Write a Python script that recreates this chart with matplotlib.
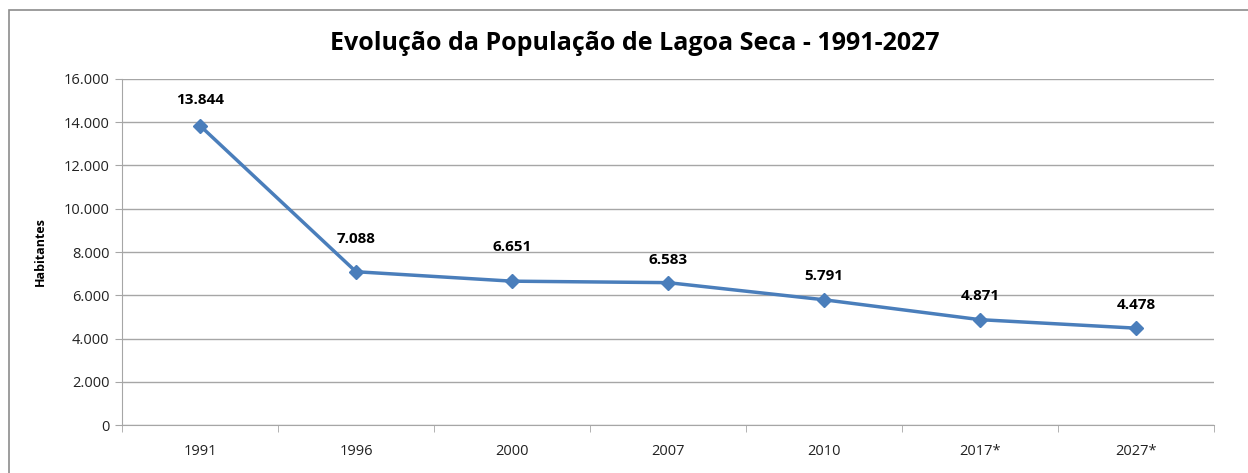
import matplotlib.pyplot as plt
from matplotlib.patches import Rectangle
from matplotlib.ticker import FuncFormatter

anos = ['1991', '1996', '2000', '2007', '2010', '2017*', '2027*']
habitantes = [13844, 7088, 6651, 6583, 5791, 4871, 4478]

# label offsets above the marker, in pixels (as in the original chart)
label_dy = [26, 33, 34, 23, 24, 24, 23]

plt.rcParams['font.family'] = ['Open Sans', 'DejaVu Sans']

fig = plt.figure(figsize=(12.48, 4.73), dpi=100)
ax = fig.add_axes([122 / 1248, 1 - 425 / 473, 1092 / 1248, 346 / 473])

# outer chart border
fig.patches.append(Rectangle((9 / 1248, -0.05), 1.2, 1 - 10 / 473 + 0.05,
                             transform=fig.transFigure, fill=False,
                             edgecolor='#8c8c8c', linewidth=1.2))

x = list(range(len(anos)))
ax.plot(x, habitantes, color='#4a7ebb', linewidth=2.5, marker='D',
        markersize=7, zorder=3)

for i, v in enumerate(habitantes):
    ax.annotate(f'{v:,}'.replace(',', '.'), (i, v), xytext=(0, label_dy[i] * 0.72),
                textcoords='offset points', ha='center', va='center',
                fontsize=11, fontweight='bold', color='black')

ax.set_xlim(-0.5, len(anos) - 0.5)
ax.set_ylim(0, 16000)
ax.set_yticks(range(0, 16001, 2000))
ax.yaxis.set_major_formatter(FuncFormatter(lambda v, p: f'{int(v):,}'.replace(',', '.')))
ax.grid(axis='y', color='#a6a6a6', linewidth=1)
ax.set_axisbelow(True)

ax.set_xticks(x)
ax.set_xticklabels(anos)
ax.set_xticks([i - 0.5 for i in range(len(anos) + 1)], minor=True)
ax.tick_params(axis='x', which='major', length=0, pad=14, labelsize=10.5, labelcolor='#222222')
ax.tick_params(axis='x', which='minor', length=5, color='#a6a6a6')
ax.tick_params(axis='y', length=5, color='#a6a6a6', labelsize=10.5, labelcolor='#222222', pad=4)

for s in ['top', 'right']:
    ax.spines[s].set_visible(False)
for s in ['left', 'bottom']:
    ax.spines[s].set_color('#a6a6a6')

ax.set_ylabel('Habitantes', fontsize=9, fontweight='bold', labelpad=12)

fig.text(635 / 1248, 1 - 44 / 473, 'Evolução da População de Lagoa Seca - 1991-2027',
         ha='center', va='center', fontsize=18, fontweight='bold')

fig.savefig('out.png', dpi=100)
